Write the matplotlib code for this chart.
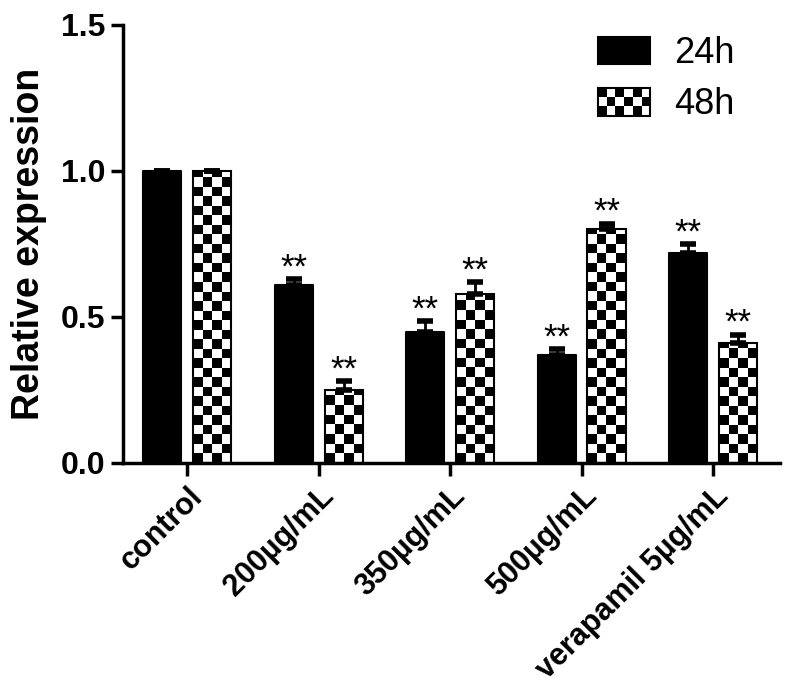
import numpy as np
import matplotlib
matplotlib.use('Agg')
import matplotlib.pyplot as plt
from matplotlib.patches import Rectangle
from matplotlib.legend_handler import HandlerBase

plt.rcParams['font.family'] = ['Liberation Sans', 'DejaVu Sans']

# data
groups = ['control', '200µg/mL', '350µg/mL', '500µg/mL', 'verapamil 5µg/mL']
vals_24h = [1.00, 0.61, 0.45, 0.37, 0.72]
err_24h = [0.00, 0.02, 0.035, 0.02, 0.03]
vals_48h = [1.00, 0.25, 0.58, 0.80, 0.41]
err_48h = [0.00, 0.03, 0.04, 0.02, 0.03]
stars_24h = ['', '**', '**', '**', '**']
stars_48h = ['', '**', '**', '**', '**']
yticks = [0.0, 0.5, 1.0, 1.5]


class CheckerHandler(HandlerBase):
    def create_artists(self, legend, orig_handle, xdescent, ydescent,
                       width, height, fontsize, trans):
        ncol, nrow = 6, 3
        cw, ch = width / ncol, height / nrow
        x0, y0 = -xdescent, -ydescent
        arts = [Rectangle((x0, y0), width, height, facecolor='white',
                          edgecolor='none', transform=trans)]
        for i in range(ncol):
            for j in range(nrow):
                if (i + j) % 2 == 0:
                    arts.append(Rectangle((x0 + i * cw, y0 + j * ch), cw, ch,
                                          facecolor='black', edgecolor='none',
                                          transform=trans))
        arts.append(Rectangle((x0, y0), width, height, facecolor='none',
                              edgecolor='black', lw=1.5, transform=trans))
        return arts


fig = plt.figure(figsize=(7.9, 6.92), dpi=100)
ax = fig.add_axes([123 / 790, 1 - 463 / 692, (780 - 123) / 790, (463 - 25) / 692])

x = np.arange(len(groups))
w = 0.29
off = 0.19

ax.set_xlim(-0.49, 4.51)
ax.set_ylim(0, 1.5)

b24 = ax.bar(x - off, vals_24h, w, color='black', edgecolor='black',
             linewidth=1.5, joinstyle='round', zorder=3, label='24h')
b48 = ax.bar(x + off, vals_48h, w, facecolor='none', edgecolor='black',
             linewidth=1.5, zorder=3, label='48h')

# checkerboard fill for 48h bars
fig.canvas.draw()
p0 = ax.transData.transform((0, 0))
p1 = ax.transData.transform((1, 1))
px_x, px_y = p1[0] - p0[0], p1[1] - p0[1]
for rect in b48:
    bx, bw, bh = rect.get_x(), rect.get_width(), rect.get_height()
    ncol = 4
    cell_w = bw / ncol
    cell_h = cell_w * px_x / px_y
    nrow = int(np.ceil(bh / cell_h))
    grid = np.indices((nrow, ncol)).sum(axis=0) % 2
    im = ax.imshow(grid, cmap='gray', interpolation='nearest', aspect='auto',
                   origin='lower', extent=(bx, bx + bw, 0, nrow * cell_h),
                   zorder=2)
    im.set_clip_path(rect)

ax.errorbar(x - off, vals_24h, yerr=[np.zeros(5), err_24h], fmt='none',
            ecolor='black', elinewidth=2, capsize=5.5, capthick=4, zorder=4)
ax.errorbar(x + off, vals_48h, yerr=[np.zeros(5), err_48h], fmt='none',
            ecolor='black', elinewidth=2, capsize=5.5, capthick=4, zorder=4)

for xi, v, e, s in zip(x - off, vals_24h, err_24h, stars_24h):
    ax.text(xi, v + e + 0.005, s, ha='center', va='baseline', fontsize=25)
for xi, v, e, s in zip(x + off, vals_48h, err_48h, stars_48h):
    ax.text(xi, v + e + 0.005, s, ha='center', va='baseline', fontsize=25)

ax.set_xlim(-0.49, 4.51)
ax.set_ylim(0, 1.5)

for side in ['top', 'right']:
    ax.spines[side].set_visible(False)
for side in ['left', 'bottom']:
    ax.spines[side].set_linewidth(2.5)

ax.set_yticks(yticks)
ax.set_yticklabels([f'{t:.1f}' for t in yticks], fontsize=23, fontweight='bold')
ax.set_xticks(x)
ax.set_xticklabels(groups, fontsize=22, fontweight='bold', rotation=45,
                   ha='right', rotation_mode='anchor')
ax.tick_params(axis='both', width=2.5, length=9)
ax.tick_params(axis='x', pad=4)
ax.set_ylabel('Relative expression', fontsize=27, fontweight='bold', labelpad=10)

ax.legend(handles=[b24, b48[0]], labels=['24h', '48h'],
          handler_map={b48[0]: CheckerHandler()},
          loc='upper left', bbox_to_anchor=(598 / 790, 1 - 36 / 692),
          bbox_transform=fig.transFigure, frameon=False, fontsize=26,
          handlelength=1.45, handleheight=0.8, handletextpad=0.65,
          labelspacing=0.45, borderpad=0, borderaxespad=0)

fig.savefig('out.png', dpi=100)
